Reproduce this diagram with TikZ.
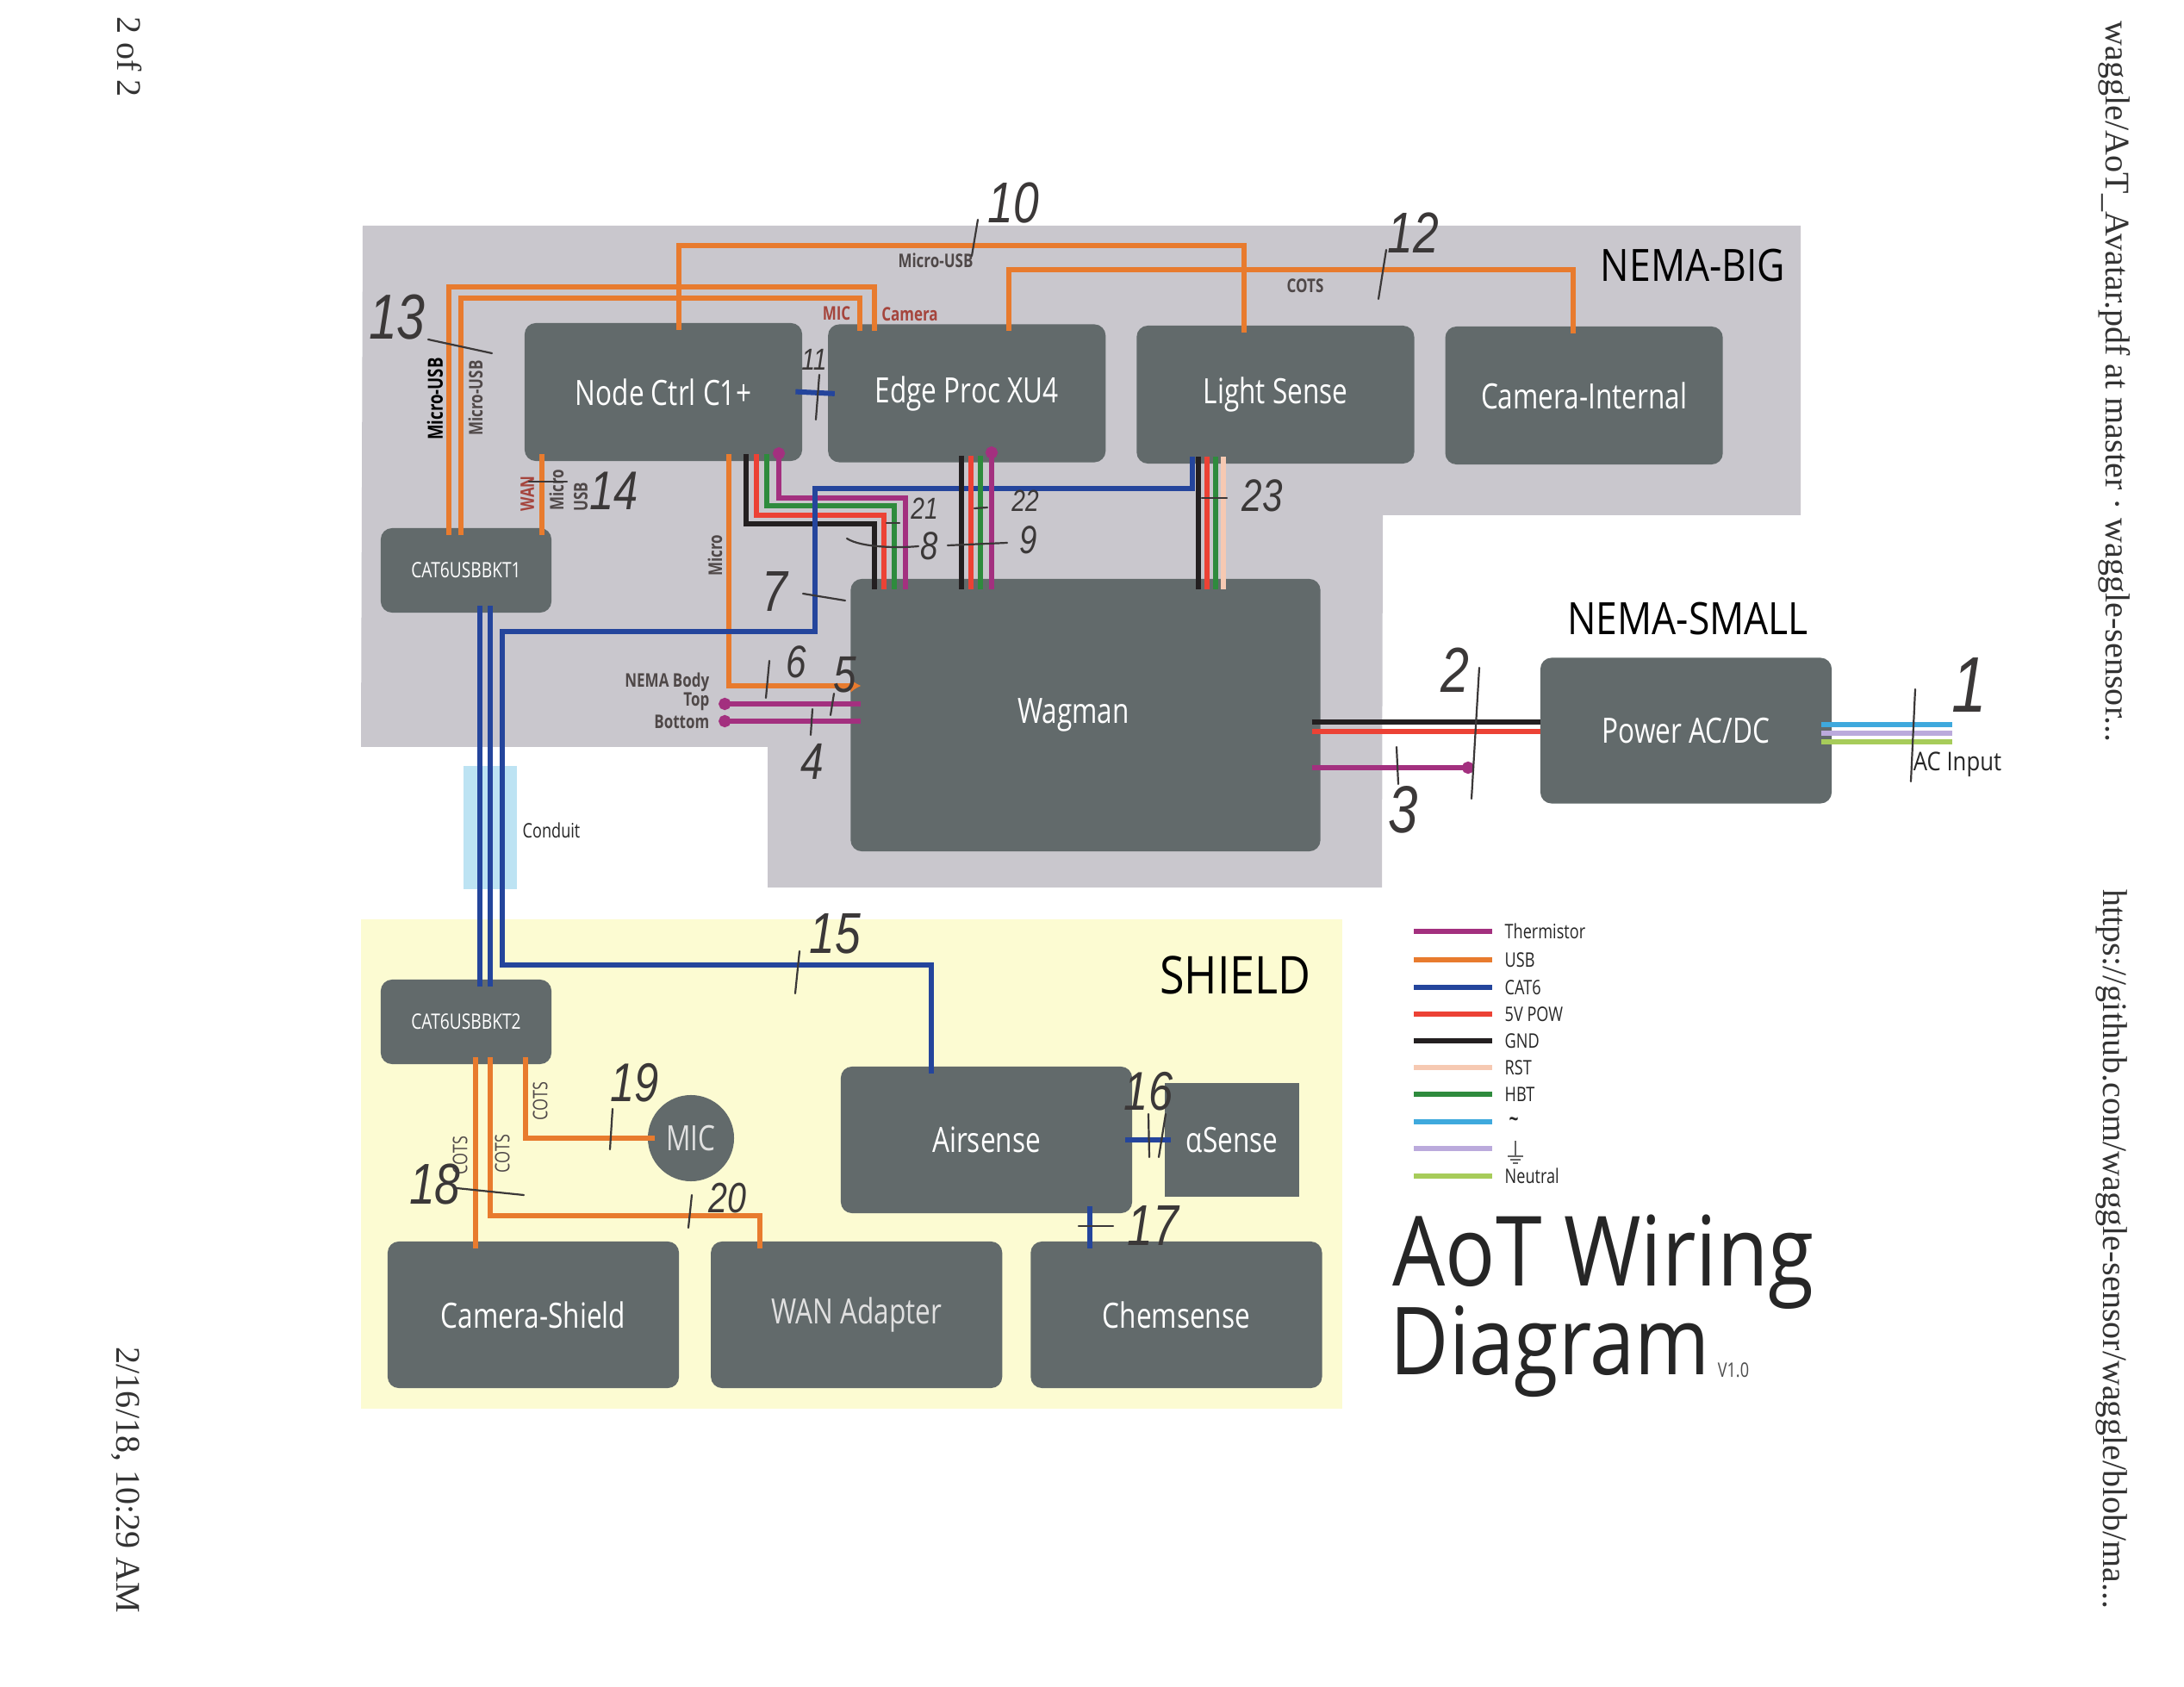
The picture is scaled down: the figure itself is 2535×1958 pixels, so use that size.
\documentclass[tikz,border=0pt]{standalone}
\usepackage{fontspec}
\setmainfont[FakeStretch=.78]{Open Sans}
\newfontfamily\titlefont[FakeStretch=.86]{Open Sans}
\newfontfamily\pagefont{Liberation Serif}
\newfontfamily\handfont[FakeStretch=.8]{Liberation Sans}
\usetikzlibrary{arrows.meta,positioning}
\definecolor{panel}{HTML}{C9C7CD}
\definecolor{shieldbg}{HTML}{FCFBD2}
\definecolor{unitgray}{HTML}{626A6B}
\definecolor{conduitblue}{HTML}{BDE3F3}
\definecolor{usbc}{HTML}{E87B2E}
\definecolor{cat6c}{HTML}{24459C}
\definecolor{powc}{HTML}{EC4235}
\definecolor{gndc}{HTML}{231F20}
\definecolor{hbtc}{HTML}{2E8B3D}
\definecolor{thermc}{HTML}{A3307F}
\definecolor{rstc}{HTML}{F6C9B2}
\definecolor{linec}{HTML}{3FA9DD}
\definecolor{earthc}{HTML}{BBAADC}
\definecolor{neutc}{HTML}{A7CC5A}
\definecolor{penc}{HTML}{3B3838}
\definecolor{labelc}{HTML}{4F4848}

\begin{document}
\begin{tikzpicture}[
  x=0.01cm,y=-0.01cm,
  unit/.style={fill=unitgray,text=white,rounded corners=.13cm,inner sep=0pt,outer sep=0pt,
    font=\fontsize{11.5}{13}\selectfont},
  row/.style={unit,minimum width=3.22cm,minimum height=1.6cm},
  wide/.style={unit,minimum width=3.38cm,minimum height=1.7cm},
  bkt/.style={unit,minimum width=1.98cm,minimum height=.98cm,
    font=\fontsize{7}{8}\selectfont},
  wire/.style={line width=.06cm,shorten <=-2.2pt,shorten >=-2.2pt},
  usb/.style={wire,usbc},
  cat/.style={wire,cat6c},
  pow/.style={wire,powc},
  gnd/.style={wire,gndc},
  hbt/.style={wire,hbtc},
  therm/.style={wire,thermc},
  rst/.style={wire,rstc},
  ac/.style={wire,linec},
  earth/.style={wire,earthc},
  neut/.style={wire,neutc},
  intowag/.style={shorten >=-.12cm},
  fromwag/.style={shorten <=-.1cm,shorten >=0pt},
  fromsupply/.style={shorten <=-.12cm,shorten >=0pt},
  sample/.style={shorten <=0pt,shorten >=0pt},
  zone/.style={font=\titlefont\fontsize{#1}{18}\selectfont,text=black,inner sep=0pt},
  tag/.style={font=\fontsize{6.6}{7}\selectfont,text=labelc,inner sep=0pt},
  tagb/.style={font=\bfseries\fontsize{6.2}{7}\selectfont,text=labelc,inner sep=0pt},
  leg/.style={font=\fontsize{6.6}{8}\selectfont,text=black!85,inner sep=0pt,anchor=west},
  margin/.style={font=\pagefont\fontsize{11.4}{13}\selectfont,text=black!80,rotate=-90,inner sep=0pt},
  hand/.style={font=\handfont\itshape\fontsize{#1}{#1}\selectfont,text=penc,inner sep=0pt},
  tick/.style={penc,line width=.022cm,line cap=round}
]
\useasboundingbox (0,0) rectangle (2535,1958);
\fill[white] (0,0) rectangle (2535,1958);

% enclosures
\fill[panel] (421,262) -- (2090,262) -- (2090,598) -- (1605,598) -- (1604,1030)
  -- (891,1030) -- (891,867) -- (419,867) -- cycle;
\fill[shieldbg] (419,1067) rectangle (1558,1635);
\fill[conduitblue] (538,889) rectangle (600,1032);

% NEMA-BIG units
\node[row] (ctrl) at (770,455) {Node Ctrl C1+};
\node[row,right=.3cm of ctrl,yshift=-.015cm] (edge) {Edge Proc XU4};
\node[row,right=.36cm of edge,yshift=-.015cm] (light) {Light Sense};
\node[row,right=.36cm of light,yshift=-.01cm] (caminner) {Camera-Internal};
\node[bkt] (bktone) at (541,662) {CAT6USBBKT1};
\node[unit,minimum width=5.45cm,minimum height=3.16cm] (wagman) at (1260,830) {\raisebox{-.06cm}{Wagman}\hspace*{.28cm}};

% NEMA-SMALL
\node[unit,minimum width=3.38cm,minimum height=1.69cm] (power) at (1957,848) {Power AC/DC};

% SHIELD units
\node[bkt] (bkttwo) at (541,1186) {CAT6USBBKT2};
\node[unit,circle,minimum size=1cm,text=black!12] (mic) at (802,1321) {MIC};
\node[wide] (camshield) at (619,1526) {Camera-Shield};
\node[wide,right=.37cm of camshield,text=black!12] (wan) {WAN Adapter};
\node[wide,right=.33cm of wan] (chem) {Chemsense};
\node[wide] (air) at (1145,1323) {Airsense};
\node[fill=unitgray,text=white,inner sep=0pt,minimum width=1.55cm,minimum height=1.32cm,
  font=\fontsize{11.5}{13}\selectfont] (alpha) at (1430,1323) {αSense};

% usb runs up top
\draw[usb] (ctrl.north -| 788,0) -- (788,285) -| (light.north -| 1444,0);
\draw[usb] (edge.north -| 1171,0) -- (1171,313) -| (caminner.north -| 1826,0);
\draw[usb] (bktone.north -| 521,0) -- (521,333) -| (edge.north -| 1015,0);
\draw[usb] (bktone.north -| 535,0) -- (535,346) -| (edge.north -| 998,0);
\draw[usb] (ctrl.south -| 629,0) -- (bktone.north -| 629,0);
\draw[usb,intowag,-{Latex[length=.12cm,width=.16cm]}] (ctrl.south -| 846,0) -- (846,796) -- (wagman.west |- 0,796);

% node ctrl to wagman
\draw[gnd,intowag] (ctrl.south -| 866,0) -- (866,608) -| (wagman.north -| 1015,0);
\draw[pow,intowag] (ctrl.south -| 878,0) -- (878,598) -| (wagman.north -| 1026,0);
\draw[hbt,intowag] (ctrl.south -| 890,0) -- (890,587) -| (wagman.north -| 1038,0);
\draw[therm,intowag,{Circle[length=.14cm,width=.14cm]}-] (904,527) -- (904,578) -| (wagman.north -| 1051,0);

% cat6
\draw[cat] (ctrl.east) -- (edge.west);
\draw[cat] (bktone.south -| 557,0) -- (bkttwo.north -| 557,0);
\draw[cat] (bktone.south -| 569,0) -- (bkttwo.north -| 569,0);
\draw[cat] (light.south -| 1384,0) -- (1384,567) -- (946,567) -- (946,733) -- (583,733)
  -- (583,1120) -| (air.north -| 1081,0);
\draw[cat] (air.east) -- (alpha.west);
\draw[cat] (air.south -| 1265,0) -- (chem.north -| 1265,0);

% edge proc and light sense to wagman
\draw[gnd,intowag] (edge.south -| 1116,0) -- (wagman.north -| 1116,0);
\draw[pow,intowag] (edge.south -| 1127,0) -- (wagman.north -| 1127,0);
\draw[hbt,intowag] (edge.south -| 1138,0) -- (wagman.north -| 1138,0);
\draw[therm,intowag,{Circle[length=.14cm,width=.14cm]}-] (1151,526) -- (wagman.north -| 1151,0);
\draw[gnd,intowag] (light.south -| 1391,0) -- (wagman.north -| 1391,0);
\draw[pow,intowag] (light.south -| 1401,0) -- (wagman.north -| 1401,0);
\draw[hbt,intowag] (light.south -| 1411,0) -- (wagman.north -| 1411,0);
\draw[rst,intowag] (light.south -| 1420,0) -- (wagman.north -| 1420,0);

% thermistors and power
\coordinate (thtop) at (842,817);
\coordinate (thbot) at (842,837);
\coordinate (thout) at (1711,891);
\draw[therm,intowag,{Circle[length=.14cm,width=.14cm]}-] (thtop) -- (wagman.west |- thtop);
\draw[therm,intowag,{Circle[length=.14cm,width=.14cm]}-] (thbot) -- (wagman.west |- thbot);
\draw[therm,fromwag,-{Circle[length=.14cm,width=.14cm]}] (wagman.east |- thout) -- (thout);
\draw[gnd,fromwag] (wagman.east |- 0,838) -- (power.west |- 0,838);
\draw[pow,fromwag] (wagman.east |- 0,849) -- (power.west |- 0,849);
\coordinate (acend) at (2266,851);
\draw[ac,fromsupply] (power.east |- 0,841) -- (acend |- 0,841);
\draw[earth,fromsupply] (power.east |- 0,851) -- (acend);
\draw[neut,fromsupply] (power.east |- 0,861) -- (acend |- 0,861);

% shield usb
\draw[usb] (bkttwo.south -| 552,0) -- (camshield.north -| 552,0);
\draw[usb] (bkttwo.south -| 569,0) -- (569,1411) -| (wan.north -| 882,0);
\draw[usb] (bkttwo.south -| 610,0) |- (mic.west);

% labels on the cables
\node[tag,rotate=90,font=\bfseries\fontsize{6.8}{8}\selectfont,text=black] (lbusbone) at (505,463) {Micro-USB};
\node[tagb,rotate=90] (lbusbtwo) at (552,462) {Micro-USB};
\node[tagb,rotate=90,text=powc!55!labelc] (lbwan) at (612,573) {WAN};
\node[tagb,rotate=90] (lbmicp) at (646,569) {Micro};
\node[tagb,rotate=90] (lbusb) at (674,577) {USB};
\node[tagb,rotate=90] (lbmicro) at (830,645) {Micro};
\node[tagb,text=powc!55!labelc] (lbmic) at (971,364) {MIC};
\node[tagb,text=powc!55!labelc] (lbcam) at (1056,365) {Camera};
\node[tagb] (lbmusb) at (1086,302) {Micro-USB};
\node[tagb] (lbcots) at (1515,332) {COTS};
\node[tagb,anchor=east] (lbbody) at (824,792) {NEMA Body};
\node[tagb,anchor=east] (lbtop) at (824,814) {Top};
\node[tagb,anchor=east] (lbbot) at (824,838) {Bottom};
\node[tag,text=black!85] (lbconduit) at (640,964) {Conduit};
\node[tag,rotate=90] (lbcotsa) at (627,1278) {COTS};
\node[tag,rotate=90] (lbcotsb) at (534,1341) {COTS};
\node[tag,rotate=90] (lbcotsc) at (583,1339) {COTS};
\node[tag,font=\titlefont\fontsize{8.5}{10}\selectfont,text=black!85] (lbac) at (2272,887) {AC Input};

% zone names
\node[zone=14.7] (nbig) at (1965,308) {NEMA-BIG};
\node[zone=14.7] (nsmall) at (1959,718) {NEMA-SMALL};
\node[zone=17.2] (nshield) at (1434,1132) {SHIELD};

% legend
\node[leg] (lgtherm) at (1746,1081) {Thermistor};
\draw[therm,sample] (lgtherm.west) ++(-105,0) -- ++(91,0);
\node[leg] (lgusb) at (1746,1114) {USB};
\draw[usb,sample] (lgusb.west) ++(-105,0) -- ++(91,0);
\node[leg] (lgcat) at (1746,1146) {CAT6};
\draw[cat,sample] (lgcat.west) ++(-105,0) -- ++(91,0);
\node[leg] (lgpow) at (1746,1177) {5V POW};
\draw[pow,sample] (lgpow.west) ++(-105,0) -- ++(91,0);
\node[leg] (lggnd) at (1746,1208) {GND};
\draw[gnd,sample] (lggnd.west) ++(-105,0) -- ++(91,0);
\node[leg] (lgrst) at (1746,1239) {RST};
\draw[rst,sample] (lgrst.west) ++(-105,0) -- ++(91,0);
\node[leg] (lghbt) at (1746,1270) {HBT};
\draw[hbt,sample] (lghbt.west) ++(-105,0) -- ++(91,0);
\node[leg,font=\bfseries\fontsize{7}{8}\selectfont] (lgac) at (1751,1302) {\char"7E};
\draw[ac,sample] (lgac.west) ++(-110,0) -- ++(91,0);
\coordinate (lgearth) at (1746,1333);
\draw[earth,sample] (lgearth) ++(-105,0) -- ++(91,0);
\draw[black!60,line width=.012cm] (1759,1324) -- (1759,1342) (1750,1342) -- (1768,1342) (1753,1346) -- (1765,1346) (1756,1350) -- (1762,1350);
\node[leg] (lgneut) at (1746,1365) {Neutral};
\draw[neut,sample] (lgneut.west) ++(-105,0) -- ++(91,0);

% title
\node[font=\titlefont\fontsize{32}{34}\selectfont,text=black!85,inner sep=0pt,anchor=base west] (tita) at (1616,1492) {AoT Wiring};
\node[font=\titlefont\fontsize{31}{34}\selectfont,text=black!85,inner sep=0pt,anchor=base west] (titb) at (1613,1595) {Diagram};
\node[tag,text=black!70] (titv) at (2012,1590) {V1.0};

% page furniture
\node[margin] (mpage) at (150,66) {2 of 2};
\node[margin] (mdate) at (146,1718) {2/16/18, 10:29 AM};
\node[margin] (mfile) at (2454,443) {waggle/AoT\_Avatar.pdf at master · waggle-sensor...};
\node[margin] (murl) at (2451,1450) {https://github.com/waggle-sensor/waggle/blob/ma...};

% pen marks
\node[hand=19] (n10) at (1176,236) {10};
\coordinate (ta10) at (1135,255); \coordinate (tb10) at (1128,297); \draw[tick] (ta10) -- (tb10);
\node[hand=19] (n12) at (1640,270) {12};
\coordinate (ta12) at (1609,290); \coordinate (tb12) at (1600,347); \draw[tick] (ta12) -- (tb12);
\node[hand=21] (n13) at (461,368) {13};
\coordinate (ta13) at (497,394); \coordinate (tb13) at (571,410); \draw[tick] (ta13) -- (tb13);
\node[hand=18] (n14) at (713,570) {14};
\coordinate (ta14) at (614,559); \coordinate (tb14) at (658,559); \draw[tick] (ta14) -- (tb14);
\node[hand=10] (n11) at (945,417) {11};
\coordinate (ta11) at (951,435); \coordinate (tb11) at (947,487); \draw[tick] (ta11) -- (tb11);
\node[hand=10] (n21) at (1073,590) {21};
\coordinate (ta21) at (1029,607); \coordinate (tb21) at (1044,607); \draw[tick] (ta21) -- (tb21);
\node[hand=13] (n8) at (1079,634) {8};
\coordinate (ta8) at (983,625); \coordinate (tb8) at (1066,634); \draw[tick] (ta8) .. controls (1000,636) and (1045,636) .. (tb8);
\node[hand=10] (n22) at (1190,581) {22};
\coordinate (ta22) at (1131,590); \coordinate (tb22) at (1146,589); \draw[tick] (ta22) -- (tb22);
\node[hand=13] (n9) at (1194,627) {9};
\coordinate (ta9) at (1100,633); \coordinate (tb9) at (1169,630); \draw[tick] (ta9) -- (tb9);
\node[hand=15] (n23) at (1465,575) {23};
\coordinate (ta23) at (1395,578); \coordinate (tb23) at (1424,578); \draw[tick] (ta23) -- (tb23);
\node[hand=19] (n7) at (899,687) {7};
\coordinate (ta7) at (932,689); \coordinate (tb7) at (981,697); \draw[tick] (ta7) -- (tb7);
\node[hand=15] (n6) at (924,768) {6};
\coordinate (ta6) at (893,767); \coordinate (tb6) at (889,810); \draw[tick] (ta6) -- (tb6);
\node[hand=17] (n5) at (981,783) {5};
\coordinate (ta5) at (968,805); \coordinate (tb5) at (964,830); \draw[tick] (ta5) -- (tb5);
\node[hand=17] (n4) at (943,884) {4};
\coordinate (ta4) at (943,823); \coordinate (tb4) at (941,853); \draw[tick] (ta4) -- (tb4);
\node[hand=21] (n2) at (1689,778) {2};
\coordinate (ta2) at (1717,775); \coordinate (tb2) at (1708,927); \draw[tick] (ta2) -- (tb2);
\node[hand=22] (n3) at (1629,940) {3};
\coordinate (ta3) at (1621,867); \coordinate (tb3) at (1623,910); \draw[tick] (ta3) -- (tb3);
\node[hand=26] (n1) at (2286,795) {1};
\coordinate (ta1) at (2223,800); \coordinate (tb1) at (2218,907); \draw[tick] (ta1) -- (tb1);
\node[hand=19] (n15) at (969,1084) {15};
\coordinate (ta15) at (928,1104); \coordinate (tb15) at (923,1153); \draw[tick] (ta15) -- (tb15);
\node[hand=18] (n19) at (737,1257) {19};
\coordinate (ta19) at (711,1287); \coordinate (tb19) at (708,1334); \draw[tick] (ta19) -- (tb19);
\node[hand=19] (n18) at (505,1375) {18};
\coordinate (ta18) at (530,1379); \coordinate (tb18) at (608,1387); \draw[tick] (ta18) -- (tb18);
\node[hand=14] (n20) at (844,1391) {20};
\coordinate (ta20) at (803,1387); \coordinate (tb20) at (799,1425); \draw[tick] (ta20) -- (tb20);
\node[hand=18] (n16) at (1333,1267) {16};
\coordinate (ta16) at (1333,1293); \coordinate (tb16) at (1334,1343); \draw[tick] (ta16) -- (tb16);
\coordinate (tc16) at (1353,1293); \coordinate (td16) at (1345,1343); \draw[tick] (tc16) -- (td16);
\node[hand=19] (n17) at (1338,1423) {17};
\coordinate (ta17) at (1252,1423); \coordinate (tb17) at (1292,1423); \draw[tick] (ta17) -- (tb17);
\end{tikzpicture}
\end{document}
